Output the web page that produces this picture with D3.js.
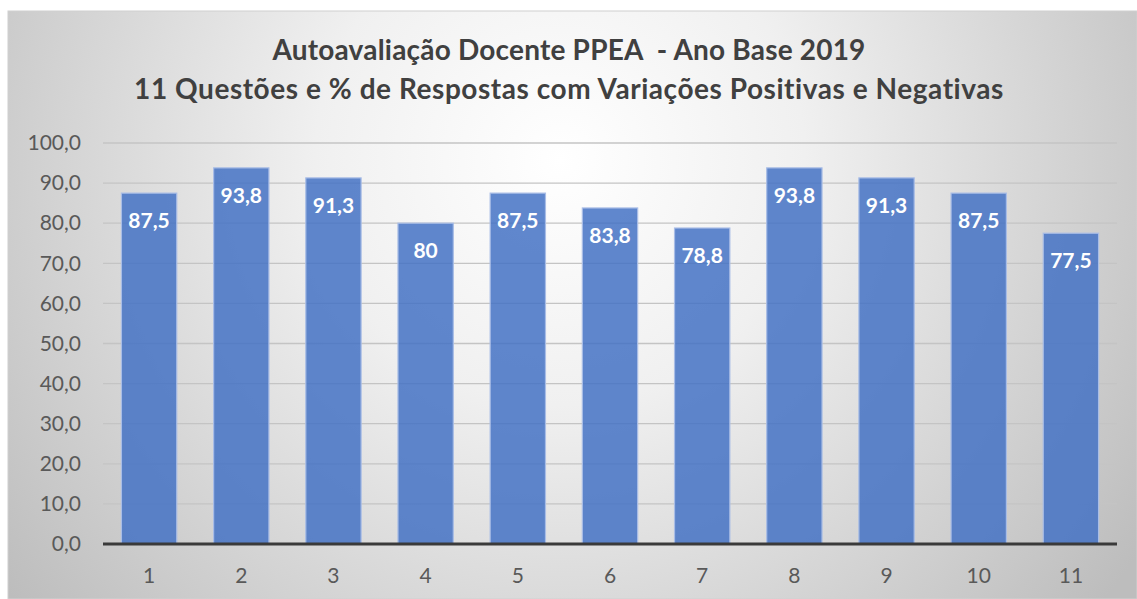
<!DOCTYPE html>
<html><head><meta charset="utf-8">
<script src="https://cdn.jsdelivr.net/npm/d3@7"></script>
<style>html,body{margin:0;padding:0;background:#fff;}svg{display:block;}</style>
</head><body>
<svg id="c" width="1137" height="599"></svg>
<script>
const categories = ["1","2","3","4","5","6","7","8","9","10","11"];
const values = [87.5, 93.8, 91.3, 80, 87.5, 83.8, 78.8, 93.8, 91.3, 87.5, 77.5];
const valueLabels = ["87,5","93,8","91,3","80","87,5","83,8","78,8","93,8","91,3","87,5","77,5"];
const yTicks = [0,10,20,30,40,50,60,70,80,90,100];
const titleLines = ["Autoavaliação Docente PPEA  - Ano Base 2019", "11 Questões e % de Respostas com Variações Positivas e Negativas"];

const svg = d3.select("#c");
const defs = svg.append("defs");
const g = defs.append("radialGradient").attr("id","bg")
  .attr("gradientUnits","userSpaceOnUse").attr("cx",560).attr("cy",160).attr("r",700);
g.append("stop").attr("offset","0").attr("stop-color","#ffffff");
g.append("stop").attr("offset","0.35").attr("stop-color","#f0f0f0");
g.append("stop").attr("offset","1").attr("stop-color","#bdbdbd");

svg.append("rect").attr("x",8).attr("y",11).attr("width",1129).attr("height",588)
  .attr("fill","url(#bg)").attr("stroke","#d0d0d0").attr("stroke-width",1);

const font = "Lato, 'Open Sans', sans-serif";
svg.append("g").selectAll("text").data(titleLines).join("text")
  .attr("x",569).attr("y",(d,i)=>60+i*39).attr("text-anchor","middle")
  .attr("font-family",font).attr("font-weight","bold").attr("font-size",28)
  .attr("letter-spacing",(d,i)=> i===0 ? 0.2 : 0.55)
  .attr("fill","#404040").attr("xml:space","preserve").text(d=>d);

const x = d3.scaleBand().domain(categories).range([103,1117]).paddingInner(0.4).paddingOuter(0.2);
const y = d3.scaleLinear().domain([0,100]).range([544,143]);

// gridlines
svg.append("g").selectAll("line").data(yTicks.filter(t=>t>0)).join("line")
  .attr("x1",103).attr("x2",1117).attr("y1",d=>y(d)).attr("y2",d=>y(d))
  .attr("stroke","#c4c4c4").attr("stroke-width",1.3);

// y axis labels
const yAxis = d3.axisLeft(y).tickValues(yTicks).tickSize(0).tickPadding(0)
  .tickFormat(d=>d3.format(".1f")(d).replace(".",","));
const ya = svg.append("g").attr("transform","translate(81,0)").call(yAxis);
ya.select(".domain").remove();
ya.selectAll("text").attr("font-family",font).attr("font-size",21).attr("fill","#595959");

// bars
svg.append("g").selectAll("rect").data(values).join("rect")
  .attr("x",(d,i)=>x(categories[i])).attr("width",x.bandwidth())
  .attr("y",d=>y(d)).attr("height",d=>y(0)-y(d))
  .attr("fill","#4472c4").attr("fill-opacity",0.85)
  .attr("stroke","#a9bde6").attr("stroke-width",1.2);

// value labels
svg.append("g").selectAll("text").data(values).join("text")
  .attr("x",(d,i)=>x(categories[i])+x.bandwidth()/2).attr("y",d=>y(d)+35)
  .attr("text-anchor","middle").attr("font-family",font).attr("font-weight","bold")
  .attr("font-size",21).attr("fill","#ffffff").text((d,i)=>valueLabels[i]);

// x axis
const xAxis = d3.axisBottom(x).tickSize(0).tickPadding(0);
const xa = svg.append("g").attr("transform","translate(0,544)").call(xAxis);
xa.select(".domain").remove();
xa.selectAll("text").attr("dy",null).attr("y",39).attr("font-family",font).attr("font-size",21).attr("fill","#595959");
svg.append("line").attr("x1",103).attr("x2",1117).attr("y1",y(0)).attr("y2",y(0))
  .attr("stroke","#3a3a3a").attr("stroke-width",3);
</script>
</body></html>
